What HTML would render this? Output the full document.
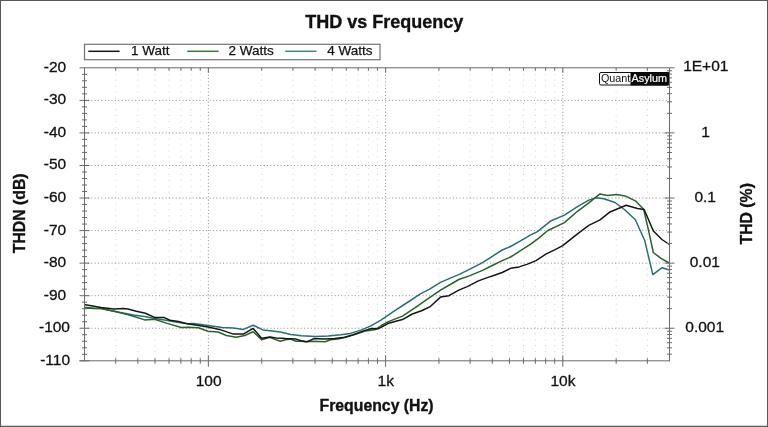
<!DOCTYPE html>
<html><head><meta charset="utf-8"><title>THD vs Frequency</title>
<style>html,body{margin:0;padding:0;background:#fff;}body{width:768px;height:427px;overflow:hidden;font-family:"Liberation Sans",sans-serif;}</style>
</head><body>
<div id="chart" style="width:768px;height:427px;will-change:transform">
<svg width="768" height="427" viewBox="0 0 768 427" style="display:block">
<rect x="0" y="0" width="768" height="427" fill="#fff"/>
<g fill="#575757"><rect x="0" y="0" width="768" height="1"/><rect x="0" y="0" width="1" height="427"/><rect x="767" y="0" width="1" height="427"/><rect x="0" y="425.75" width="768" height="1.25"/></g>
<g><line x1="115.71" y1="67.8" x2="115.71" y2="360.8" stroke="#d0d0d0" stroke-width="1" stroke-dasharray="1 4.9"/><line x1="137.85" y1="67.8" x2="137.85" y2="360.8" stroke="#d0d0d0" stroke-width="1" stroke-dasharray="1 4.9"/><line x1="155.02" y1="67.8" x2="155.02" y2="360.8" stroke="#d0d0d0" stroke-width="1" stroke-dasharray="1 4.9"/><line x1="169.05" y1="67.8" x2="169.05" y2="360.8" stroke="#d0d0d0" stroke-width="1" stroke-dasharray="1 4.9"/><line x1="180.92" y1="67.8" x2="180.92" y2="360.8" stroke="#d0d0d0" stroke-width="1" stroke-dasharray="1 4.9"/><line x1="191.20" y1="67.8" x2="191.20" y2="360.8" stroke="#d0d0d0" stroke-width="1" stroke-dasharray="1 4.9"/><line x1="200.26" y1="67.8" x2="200.26" y2="360.8" stroke="#d0d0d0" stroke-width="1" stroke-dasharray="1 4.9"/><line x1="261.72" y1="67.8" x2="261.72" y2="360.8" stroke="#d0d0d0" stroke-width="1" stroke-dasharray="1 4.9"/><line x1="292.92" y1="67.8" x2="292.92" y2="360.8" stroke="#d0d0d0" stroke-width="1" stroke-dasharray="1 4.9"/><line x1="315.07" y1="67.8" x2="315.07" y2="360.8" stroke="#d0d0d0" stroke-width="1" stroke-dasharray="1 4.9"/><line x1="332.24" y1="67.8" x2="332.24" y2="360.8" stroke="#d0d0d0" stroke-width="1" stroke-dasharray="1 4.9"/><line x1="346.27" y1="67.8" x2="346.27" y2="360.8" stroke="#d0d0d0" stroke-width="1" stroke-dasharray="1 4.9"/><line x1="358.14" y1="67.8" x2="358.14" y2="360.8" stroke="#d0d0d0" stroke-width="1" stroke-dasharray="1 4.9"/><line x1="368.41" y1="67.8" x2="368.41" y2="360.8" stroke="#d0d0d0" stroke-width="1" stroke-dasharray="1 4.9"/><line x1="377.48" y1="67.8" x2="377.48" y2="360.8" stroke="#d0d0d0" stroke-width="1" stroke-dasharray="1 4.9"/><line x1="438.93" y1="67.8" x2="438.93" y2="360.8" stroke="#d0d0d0" stroke-width="1" stroke-dasharray="1 4.9"/><line x1="470.14" y1="67.8" x2="470.14" y2="360.8" stroke="#d0d0d0" stroke-width="1" stroke-dasharray="1 4.9"/><line x1="492.28" y1="67.8" x2="492.28" y2="360.8" stroke="#d0d0d0" stroke-width="1" stroke-dasharray="1 4.9"/><line x1="509.46" y1="67.8" x2="509.46" y2="360.8" stroke="#d0d0d0" stroke-width="1" stroke-dasharray="1 4.9"/><line x1="523.49" y1="67.8" x2="523.49" y2="360.8" stroke="#d0d0d0" stroke-width="1" stroke-dasharray="1 4.9"/><line x1="535.35" y1="67.8" x2="535.35" y2="360.8" stroke="#d0d0d0" stroke-width="1" stroke-dasharray="1 4.9"/><line x1="545.63" y1="67.8" x2="545.63" y2="360.8" stroke="#d0d0d0" stroke-width="1" stroke-dasharray="1 4.9"/><line x1="554.70" y1="67.8" x2="554.70" y2="360.8" stroke="#d0d0d0" stroke-width="1" stroke-dasharray="1 4.9"/><line x1="616.15" y1="67.8" x2="616.15" y2="360.8" stroke="#d0d0d0" stroke-width="1" stroke-dasharray="1 4.9"/><line x1="647.36" y1="67.8" x2="647.36" y2="360.8" stroke="#d0d0d0" stroke-width="1" stroke-dasharray="1 4.9"/><line x1="208.37" y1="67.8" x2="208.37" y2="360.8" stroke="#8c8c8c" stroke-width="1" stroke-dasharray="1 2.38"/><line x1="385.59" y1="67.8" x2="385.59" y2="360.8" stroke="#8c8c8c" stroke-width="1" stroke-dasharray="1 2.38"/><line x1="562.80" y1="67.8" x2="562.80" y2="360.8" stroke="#8c8c8c" stroke-width="1" stroke-dasharray="1 2.38"/><line x1="84.5" y1="100.36" x2="669.5" y2="100.36" stroke="#8c8c8c" stroke-width="1" stroke-dasharray="1 2.38"/><line x1="84.5" y1="132.91" x2="669.5" y2="132.91" stroke="#8c8c8c" stroke-width="1" stroke-dasharray="1 2.38"/><line x1="84.5" y1="165.47" x2="669.5" y2="165.47" stroke="#8c8c8c" stroke-width="1" stroke-dasharray="1 2.38"/><line x1="84.5" y1="198.02" x2="669.5" y2="198.02" stroke="#8c8c8c" stroke-width="1" stroke-dasharray="1 2.38"/><line x1="84.5" y1="230.58" x2="669.5" y2="230.58" stroke="#8c8c8c" stroke-width="1" stroke-dasharray="1 2.38"/><line x1="84.5" y1="263.13" x2="669.5" y2="263.13" stroke="#8c8c8c" stroke-width="1" stroke-dasharray="1 2.38"/><line x1="84.5" y1="295.69" x2="669.5" y2="295.69" stroke="#8c8c8c" stroke-width="1" stroke-dasharray="1 2.38"/><line x1="84.5" y1="328.24" x2="669.5" y2="328.24" stroke="#8c8c8c" stroke-width="1" stroke-dasharray="1 2.38"/></g>
<clipPath id="c"><rect x="84.5" y="67.8" width="585.0" height="293.0"/></clipPath>
<g clip-path="url(#c)">
<polyline points="84.2,307.3 94.0,308.2 101.0,308.4 115.2,311.4 133.4,315.0 144.7,316.4 154.5,318.5 164.4,319.9 175.6,322.0 188.0,323.7 194.0,323.5 208.1,325.6 222.2,327.5 233.4,328.0 243.3,329.4 253.1,325.2 263.0,329.9 270.0,330.8 280.4,332.1 290.8,334.4 301.3,335.8 315.8,336.5 328.3,336.0 340.8,334.8 350.3,333.4 361.6,329.9 371.4,325.6 381.3,319.8 394.1,311.2 408.1,302.0 420.8,293.6 429.2,289.4 440.5,282.4 450.3,278.1 458.8,274.6 471.3,268.3 482.5,262.7 492.3,256.3 502.2,250.0 510.6,246.5 520.5,240.9 530.3,235.2 537.4,231.7 551.2,220.7 564.4,215.1 577.5,206.7 588.8,200.1 596.2,197.7 603.8,198.8 615.0,202.5 624.4,209.5 635.4,219.8 644.8,240.8 652.8,274.7 662.2,267.7 669.2,270.0" fill="none" stroke="#276f79" stroke-width="1.5" stroke-linejoin="round" stroke-linecap="round"/>
<polyline points="84.2,308.0 94.0,308.4 101.0,308.4 115.2,311.5 129.2,315.0 144.7,319.9 154.5,319.2 167.2,323.4 181.3,327.5 188.0,327.2 198.3,327.7 208.0,331.3 218.0,332.0 226.4,335.5 236.3,337.3 244.7,335.5 253.1,331.7 261.6,339.7 270.0,337.3 274.2,339.1 280.4,341.2 285.6,339.7 290.8,339.1 296.0,341.2 301.2,341.2 306.5,341.8 311.7,341.2 325.2,341.8 330.4,339.7 337.7,339.1 345.0,337.6 356.0,334.1 364.4,331.3 375.6,329.4 381.3,325.5 388.4,321.6 402.5,316.1 415.2,307.7 429.2,297.8 440.5,290.1 450.3,284.5 458.8,279.5 470.0,275.6 482.5,270.4 492.3,265.5 502.2,260.6 510.6,257.0 520.5,250.7 530.3,244.4 538.8,238.1 547.4,230.8 564.4,222.6 577.5,211.3 588.8,202.9 600.0,193.9 607.5,195.4 616.9,194.5 626.2,196.3 635.4,200.8 643.6,209.2 648.3,229.4 653.3,252.5 661.0,258.3 669.2,263.0" fill="none" stroke="#286428" stroke-width="1.5" stroke-linejoin="round" stroke-linecap="round"/>
<polyline points="84.0,304.5 101.1,307.6 113.8,309.1 123.6,308.4 127.8,309.1 136.3,311.2 145.4,313.2 154.5,317.4 163.7,317.4 170.0,320.2 178.4,321.6 186.0,323.4 194.0,324.7 208.0,327.0 219.4,329.4 233.4,334.1 243.3,334.1 253.1,328.4 261.6,338.3 270.0,337.1 276.2,337.9 285.6,338.6 296.0,339.1 301.2,340.7 306.5,341.8 309.6,340.7 313.8,338.6 324.2,338.9 334.6,338.6 342.9,337.6 353.1,334.8 364.4,330.6 371.4,328.5 378.5,328.7 388.4,323.3 402.5,319.6 412.3,314.0 422.2,310.5 430.6,306.3 440.5,297.1 448.9,295.7 458.8,290.1 467.2,286.6 478.4,280.9 488.0,277.4 492.3,276.0 502.2,272.5 510.6,268.3 519.1,266.9 527.5,264.1 536.0,260.6 545.8,254.2 555.6,249.3 562.7,245.6 577.5,233.8 588.8,225.4 600.0,219.8 609.4,212.3 626.2,205.3 637.5,208.5 644.1,209.5 653.4,231.0 661.9,239.5 669.4,244.5" fill="none" stroke="#161616" stroke-width="1.5" stroke-linejoin="round" stroke-linecap="round"/>
</g>
<g stroke="#6a6a6a" stroke-width="1" fill="none"><line x1="79.5" y1="67.8" x2="674.5" y2="67.8"/><line x1="79.5" y1="360.8" x2="669.5" y2="360.8"/><line x1="84.5" y1="67.8" x2="84.5" y2="361.3"/><line x1="669.5" y1="67.8" x2="669.5" y2="361.3"/><line x1="82.0" y1="74.31" x2="87.0" y2="74.31"/><line x1="82.0" y1="80.82" x2="87.0" y2="80.82"/><line x1="82.0" y1="87.33" x2="87.0" y2="87.33"/><line x1="82.0" y1="93.84" x2="87.0" y2="93.84"/><line x1="79.5" y1="100.36" x2="89.5" y2="100.36"/><line x1="82.0" y1="106.87" x2="87.0" y2="106.87"/><line x1="82.0" y1="113.38" x2="87.0" y2="113.38"/><line x1="82.0" y1="119.89" x2="87.0" y2="119.89"/><line x1="82.0" y1="126.40" x2="87.0" y2="126.40"/><line x1="79.5" y1="132.91" x2="89.5" y2="132.91"/><line x1="82.0" y1="139.42" x2="87.0" y2="139.42"/><line x1="82.0" y1="145.93" x2="87.0" y2="145.93"/><line x1="82.0" y1="152.44" x2="87.0" y2="152.44"/><line x1="82.0" y1="158.96" x2="87.0" y2="158.96"/><line x1="79.5" y1="165.47" x2="89.5" y2="165.47"/><line x1="82.0" y1="171.98" x2="87.0" y2="171.98"/><line x1="82.0" y1="178.49" x2="87.0" y2="178.49"/><line x1="82.0" y1="185.00" x2="87.0" y2="185.00"/><line x1="82.0" y1="191.51" x2="87.0" y2="191.51"/><line x1="79.5" y1="198.02" x2="89.5" y2="198.02"/><line x1="82.0" y1="204.53" x2="87.0" y2="204.53"/><line x1="82.0" y1="211.04" x2="87.0" y2="211.04"/><line x1="82.0" y1="217.56" x2="87.0" y2="217.56"/><line x1="82.0" y1="224.07" x2="87.0" y2="224.07"/><line x1="79.5" y1="230.58" x2="89.5" y2="230.58"/><line x1="82.0" y1="237.09" x2="87.0" y2="237.09"/><line x1="82.0" y1="243.60" x2="87.0" y2="243.60"/><line x1="82.0" y1="250.11" x2="87.0" y2="250.11"/><line x1="82.0" y1="256.62" x2="87.0" y2="256.62"/><line x1="79.5" y1="263.13" x2="89.5" y2="263.13"/><line x1="82.0" y1="269.64" x2="87.0" y2="269.64"/><line x1="82.0" y1="276.16" x2="87.0" y2="276.16"/><line x1="82.0" y1="282.67" x2="87.0" y2="282.67"/><line x1="82.0" y1="289.18" x2="87.0" y2="289.18"/><line x1="79.5" y1="295.69" x2="89.5" y2="295.69"/><line x1="82.0" y1="302.20" x2="87.0" y2="302.20"/><line x1="82.0" y1="308.71" x2="87.0" y2="308.71"/><line x1="82.0" y1="315.22" x2="87.0" y2="315.22"/><line x1="82.0" y1="321.73" x2="87.0" y2="321.73"/><line x1="79.5" y1="328.24" x2="89.5" y2="328.24"/><line x1="82.0" y1="334.76" x2="87.0" y2="334.76"/><line x1="82.0" y1="341.27" x2="87.0" y2="341.27"/><line x1="82.0" y1="347.78" x2="87.0" y2="347.78"/><line x1="82.0" y1="354.29" x2="87.0" y2="354.29"/><line x1="79.5" y1="360.80" x2="89.5" y2="360.80"/><line x1="664.5" y1="132.91" x2="674.5" y2="132.91"/><line x1="667.0" y1="113.31" x2="672.0" y2="113.31"/><line x1="667.0" y1="101.85" x2="672.0" y2="101.85"/><line x1="667.0" y1="93.71" x2="672.0" y2="93.71"/><line x1="667.0" y1="87.40" x2="672.0" y2="87.40"/><line x1="667.0" y1="82.24" x2="672.0" y2="82.24"/><line x1="667.0" y1="77.89" x2="672.0" y2="77.89"/><line x1="667.0" y1="74.11" x2="672.0" y2="74.11"/><line x1="667.0" y1="70.78" x2="672.0" y2="70.78"/><line x1="664.5" y1="198.02" x2="674.5" y2="198.02"/><line x1="667.0" y1="178.42" x2="672.0" y2="178.42"/><line x1="667.0" y1="166.96" x2="672.0" y2="166.96"/><line x1="667.0" y1="158.82" x2="672.0" y2="158.82"/><line x1="667.0" y1="152.51" x2="672.0" y2="152.51"/><line x1="667.0" y1="147.36" x2="672.0" y2="147.36"/><line x1="667.0" y1="143.00" x2="672.0" y2="143.00"/><line x1="667.0" y1="139.22" x2="672.0" y2="139.22"/><line x1="667.0" y1="135.89" x2="672.0" y2="135.89"/><line x1="664.5" y1="263.13" x2="674.5" y2="263.13"/><line x1="667.0" y1="243.53" x2="672.0" y2="243.53"/><line x1="667.0" y1="232.07" x2="672.0" y2="232.07"/><line x1="667.0" y1="223.93" x2="672.0" y2="223.93"/><line x1="667.0" y1="217.62" x2="672.0" y2="217.62"/><line x1="667.0" y1="212.47" x2="672.0" y2="212.47"/><line x1="667.0" y1="208.11" x2="672.0" y2="208.11"/><line x1="667.0" y1="204.33" x2="672.0" y2="204.33"/><line x1="667.0" y1="201.00" x2="672.0" y2="201.00"/><line x1="664.5" y1="328.24" x2="674.5" y2="328.24"/><line x1="667.0" y1="308.64" x2="672.0" y2="308.64"/><line x1="667.0" y1="297.18" x2="672.0" y2="297.18"/><line x1="667.0" y1="289.04" x2="672.0" y2="289.04"/><line x1="667.0" y1="282.73" x2="672.0" y2="282.73"/><line x1="667.0" y1="277.58" x2="672.0" y2="277.58"/><line x1="667.0" y1="273.22" x2="672.0" y2="273.22"/><line x1="667.0" y1="269.44" x2="672.0" y2="269.44"/><line x1="667.0" y1="266.11" x2="672.0" y2="266.11"/><line x1="667.0" y1="354.15" x2="672.0" y2="354.15"/><line x1="667.0" y1="347.84" x2="672.0" y2="347.84"/><line x1="667.0" y1="342.69" x2="672.0" y2="342.69"/><line x1="667.0" y1="338.33" x2="672.0" y2="338.33"/><line x1="667.0" y1="334.55" x2="672.0" y2="334.55"/><line x1="667.0" y1="331.22" x2="672.0" y2="331.22"/><line x1="115.71" y1="358.3" x2="115.71" y2="363.8"/><line x1="115.71" y1="67.8" x2="115.71" y2="70.8"/><line x1="137.85" y1="358.3" x2="137.85" y2="363.8"/><line x1="137.85" y1="67.8" x2="137.85" y2="70.8"/><line x1="155.02" y1="358.3" x2="155.02" y2="363.8"/><line x1="155.02" y1="67.8" x2="155.02" y2="70.8"/><line x1="169.05" y1="358.3" x2="169.05" y2="363.8"/><line x1="169.05" y1="67.8" x2="169.05" y2="70.8"/><line x1="180.92" y1="358.3" x2="180.92" y2="363.8"/><line x1="180.92" y1="67.8" x2="180.92" y2="70.8"/><line x1="191.20" y1="358.3" x2="191.20" y2="363.8"/><line x1="191.20" y1="67.8" x2="191.20" y2="70.8"/><line x1="200.26" y1="358.3" x2="200.26" y2="363.8"/><line x1="200.26" y1="67.8" x2="200.26" y2="70.8"/><line x1="261.72" y1="358.3" x2="261.72" y2="363.8"/><line x1="261.72" y1="67.8" x2="261.72" y2="70.8"/><line x1="292.92" y1="358.3" x2="292.92" y2="363.8"/><line x1="292.92" y1="67.8" x2="292.92" y2="70.8"/><line x1="315.07" y1="358.3" x2="315.07" y2="363.8"/><line x1="315.07" y1="67.8" x2="315.07" y2="70.8"/><line x1="332.24" y1="358.3" x2="332.24" y2="363.8"/><line x1="332.24" y1="67.8" x2="332.24" y2="70.8"/><line x1="346.27" y1="358.3" x2="346.27" y2="363.8"/><line x1="346.27" y1="67.8" x2="346.27" y2="70.8"/><line x1="358.14" y1="358.3" x2="358.14" y2="363.8"/><line x1="358.14" y1="67.8" x2="358.14" y2="70.8"/><line x1="368.41" y1="358.3" x2="368.41" y2="363.8"/><line x1="368.41" y1="67.8" x2="368.41" y2="70.8"/><line x1="377.48" y1="358.3" x2="377.48" y2="363.8"/><line x1="377.48" y1="67.8" x2="377.48" y2="70.8"/><line x1="438.93" y1="358.3" x2="438.93" y2="363.8"/><line x1="438.93" y1="67.8" x2="438.93" y2="70.8"/><line x1="470.14" y1="358.3" x2="470.14" y2="363.8"/><line x1="470.14" y1="67.8" x2="470.14" y2="70.8"/><line x1="492.28" y1="358.3" x2="492.28" y2="363.8"/><line x1="492.28" y1="67.8" x2="492.28" y2="70.8"/><line x1="509.46" y1="358.3" x2="509.46" y2="363.8"/><line x1="509.46" y1="67.8" x2="509.46" y2="70.8"/><line x1="523.49" y1="358.3" x2="523.49" y2="363.8"/><line x1="523.49" y1="67.8" x2="523.49" y2="70.8"/><line x1="535.35" y1="358.3" x2="535.35" y2="363.8"/><line x1="535.35" y1="67.8" x2="535.35" y2="70.8"/><line x1="545.63" y1="358.3" x2="545.63" y2="363.8"/><line x1="545.63" y1="67.8" x2="545.63" y2="70.8"/><line x1="554.70" y1="358.3" x2="554.70" y2="363.8"/><line x1="554.70" y1="67.8" x2="554.70" y2="70.8"/><line x1="616.15" y1="358.3" x2="616.15" y2="363.8"/><line x1="616.15" y1="67.8" x2="616.15" y2="70.8"/><line x1="647.36" y1="358.3" x2="647.36" y2="363.8"/><line x1="647.36" y1="67.8" x2="647.36" y2="70.8"/><line x1="208.37" y1="355.8" x2="208.37" y2="366.8"/><line x1="208.37" y1="67.8" x2="208.37" y2="72.8"/><line x1="385.59" y1="355.8" x2="385.59" y2="366.8"/><line x1="385.59" y1="67.8" x2="385.59" y2="72.8"/><line x1="562.80" y1="355.8" x2="562.80" y2="366.8"/><line x1="562.80" y1="67.8" x2="562.80" y2="72.8"/></g>
<g font-family="Liberation Sans, sans-serif" font-size="15.5" fill="#111" stroke="#111" stroke-width="0.3"><text x="66.2" y="71.7" text-anchor="end">-20</text><text x="66.2" y="104.3" text-anchor="end">-30</text><text x="66.2" y="136.8" text-anchor="end">-40</text><text x="66.2" y="169.4" text-anchor="end">-50</text><text x="66.2" y="201.9" text-anchor="end">-60</text><text x="66.2" y="234.5" text-anchor="end">-70</text><text x="66.2" y="267.0" text-anchor="end">-80</text><text x="66.2" y="299.6" text-anchor="end">-90</text><text x="70.0" y="332.1" text-anchor="end">-100</text><text x="70.0" y="364.7" text-anchor="end">-110</text><text x="705.8" y="71.4" text-anchor="middle">1E+01</text><text x="705.6" y="136.5" text-anchor="middle">1</text><text x="705.2" y="201.6" text-anchor="middle">0.1</text><text x="704.8" y="266.7" text-anchor="middle">0.01</text><text x="704.7" y="331.8" text-anchor="middle">0.001</text><text x="208.6" y="386.3" text-anchor="middle">100</text><text x="385.8" y="386.3" text-anchor="middle">1k</text><text x="563.0" y="386.3" text-anchor="middle">10k</text></g>
<text x="384.3" y="28.3" text-anchor="middle" font-family="Liberation Sans, sans-serif" font-size="18" font-weight="bold" fill="#111" stroke="#111" stroke-width="0.35">THD vs Frequency</text>
<text x="376.6" y="411.4" text-anchor="middle" font-family="Liberation Sans, sans-serif" font-size="15.8" font-weight="bold" fill="#111" stroke="#111" stroke-width="0.35">Frequency (Hz)</text>
<text transform="translate(24.8,213.3) rotate(-90)" text-anchor="middle" font-family="Liberation Sans, sans-serif" font-size="15.8" font-weight="bold" fill="#111" stroke="#111" stroke-width="0.35">THDN (dB)</text>
<text transform="translate(752,213.8) rotate(-90)" text-anchor="middle" font-family="Liberation Sans, sans-serif" font-size="15.8" font-weight="bold" fill="#111" stroke="#111" stroke-width="0.35">THD (%)</text>
<rect x="84.5" y="44.3" width="295.5" height="15.4" fill="#fff" stroke="#747474" stroke-width="1.2"/>
<line x1="88.3" y1="51.3" x2="119.6" y2="51.3" stroke="#161616" stroke-width="1.5"/>
<text x="131.1" y="54.8" font-family="Liberation Sans, sans-serif" font-size="13.5" fill="#111" stroke="#111" stroke-width="0.25">1 Watt</text>
<line x1="187.3" y1="51.3" x2="218.60000000000002" y2="51.3" stroke="#3b7741" stroke-width="1.5"/>
<text x="228.5" y="54.8" font-family="Liberation Sans, sans-serif" font-size="13.5" fill="#111" stroke="#111" stroke-width="0.25">2 Watts</text>
<line x1="285.2" y1="51.3" x2="316.5" y2="51.3" stroke="#3d8487" stroke-width="1.5"/>
<text x="327.2" y="54.8" font-family="Liberation Sans, sans-serif" font-size="13.5" fill="#111" stroke="#111" stroke-width="0.25">4 Watts</text>
<rect x="599.5" y="72.5" width="69" height="12.5" rx="1.5" fill="#fff" stroke="#111" stroke-width="1"/>
<rect x="630.5" y="72" width="38.4" height="13.5" fill="#0a0a0a"/>
<text x="600.9" y="82.0" font-family="Liberation Sans, sans-serif" font-size="10.8" fill="#111">Quant</text>
<text x="631.6" y="82.0" font-family="Liberation Sans, sans-serif" font-size="10.8" fill="#fff" stroke="#fff" stroke-width="0.2">Asylum</text>
</svg>
</div>
</body></html>
